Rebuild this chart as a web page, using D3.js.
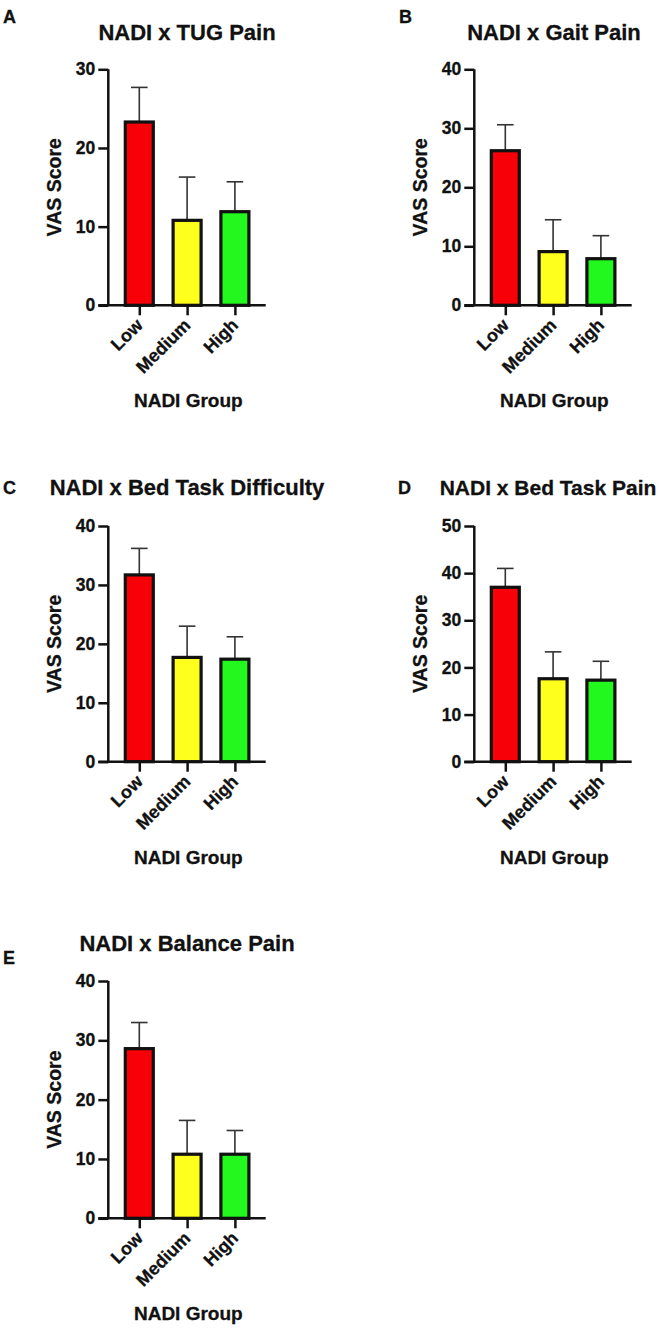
<!DOCTYPE html>
<html>
<head>
<meta charset="utf-8">
<script src="https://cdn.jsdelivr.net/npm/d3@7"></script>
<style>
  html, body { margin: 0; padding: 0; background: #fff; }
  svg { display: block; }
  text { font-family: "Liberation Sans", Arial, Helvetica, sans-serif; font-weight: bold; fill: #111; stroke: #111; stroke-width: 0.3px; }
</style>
</head>
<body>
<svg id="chart" width="672" height="1328"></svg>
<script>
// ---------- data ----------
const categories = ["Low", "Medium", "High"];
const panelLetters = ["A", "B", "C", "D", "E"];
const panelTitles = [
  "NADI x TUG Pain",
  "NADI x Gait Pain",
  "NADI x Bed Task Difficulty",
  "NADI x Bed Task Pain",
  "NADI x Balance Pain"
];
const yAxisLabel = "VAS Score";
const xAxisLabel = "NADI Group";

const meansA = [23.3, 10.8, 11.9];
const errA   = [4.4, 5.5, 3.8];
const meansB = [26.2, 9.1, 7.9];
const errB   = [4.4, 5.4, 3.9];
const meansC = [31.7, 17.7, 17.4];
const errC   = [4.5, 5.3, 3.8];
const meansD = [37.0, 17.6, 17.3];
const errD   = [4.0, 5.7, 4.0];
const meansE = [28.6, 10.8, 10.8];
const errE   = [4.4, 5.7, 4.0];

const yTicksA = [0, 10, 20, 30];
const yTicksB = [0, 10, 20, 30, 40];
const yTicksC = [0, 10, 20, 30, 40];
const yTicksD = [0, 10, 20, 30, 40, 50];
const yTicksE = [0, 10, 20, 30, 40];

const barColors = ["#f70008", "#ffff1e", "#22f81e"];

// ---------- layout (positions and sizes only) ----------
const layout = [
  { ax: 108.3, y0: 305.3, yTop: 69.3,  titleX: 187, titleY: 39.5, titleSize: 22, letterX: 3,   letterY: 23 },
  { ax: 474.3, y0: 305.3, yTop: 69.3,  titleX: 554, titleY: 39.5, titleSize: 22, letterX: 399, letterY: 23 },
  { ax: 108.3, y0: 761.7, yTop: 526,   titleX: 187, titleY: 494.5, titleSize: 22, letterX: 3,   letterY: 494 },
  { ax: 474.3, y0: 761.7, yTop: 526,   titleX: 548, titleY: 494.5, titleSize: 21, letterX: 398, letterY: 494 },
  { ax: 108.3, y0: 1218.3, yTop: 981,  titleX: 187, titleY: 950.5, titleSize: 22, letterX: 3,   letterY: 964 }
];

const panels = [
  { means: meansA, errs: errA, ticks: yTicksA },
  { means: meansB, errs: errB, ticks: yTicksB },
  { means: meansC, errs: errC, ticks: yTicksC },
  { means: meansD, errs: errD, ticks: yTicksD },
  { means: meansE, errs: errE, ticks: yTicksE }
];

const svg = d3.select("#chart");

panels.forEach((p, i) => {
  const L = layout[i];
  const g = svg.append("g");

  const x = d3.scalePoint().domain(categories).range([L.ax + 31, L.ax + 126.6]);
  const yMax = d3.max(p.ticks);
  const y = d3.scaleLinear().domain([0, yMax]).range([L.y0, L.yTop]);
  const barW = 28;

  // panel letter
  g.append("text").attr("x", L.letterX).attr("y", L.letterY)
    .attr("font-size", 18).text(panelLetters[i]);

  // title
  g.append("text").attr("x", L.titleX).attr("y", L.titleY)
    .attr("text-anchor", "middle").attr("font-size", L.titleSize).text(panelTitles[i]);

  // error bars (drawn first so bar covers lower part)
  const eb = g.append("g").attr("stroke", "#333").attr("stroke-width", 1.6).attr("fill", "none");
  categories.forEach((c, k) => {
    const cx = x(c);
    eb.append("line").attr("x1", cx).attr("x2", cx)
      .attr("y1", y(p.means[k])).attr("y2", y(p.means[k] + p.errs[k]));
    eb.append("line").attr("x1", cx - 8.3).attr("x2", cx + 8.3)
      .attr("y1", y(p.means[k] + p.errs[k])).attr("y2", y(p.means[k] + p.errs[k]));
  });

  // bars
  g.append("g").selectAll("rect").data(categories).join("rect")
    .attr("x", c => x(c) - barW / 2)
    .attr("width", barW)
    .attr("y", (c, k) => y(p.means[k]))
    .attr("height", (c, k) => y(0) - y(p.means[k]))
    .attr("fill", (c, k) => barColors[k])
    .attr("stroke", "#111").attr("stroke-width", 3.2);

  // y axis
  const yAxis = d3.axisLeft(y).tickValues(p.ticks).tickSize(10).tickPadding(3).tickFormat(d3.format("d"));
  const yg = g.append("g").attr("transform", `translate(${L.ax},0)`).call(yAxis);
  yg.select(".domain").attr("stroke", "#111").attr("stroke-width", 2.5).attr("d", `M0,${L.y0}V${L.yTop}`);
  yg.selectAll(".tick line").attr("stroke", "#111").attr("stroke-width", 2.5);
  yg.selectAll(".tick text").attr("font-size", 17.5).attr("font-family", null).attr("fill", "#111");

  // x axis
  const xAxis = d3.axisBottom(x).tickSize(10).tickFormat("");
  const xg = g.append("g").attr("transform", `translate(0,${L.y0})`).call(xAxis);
  xg.select(".domain").attr("stroke", "#111").attr("stroke-width", 2.5)
    .attr("d", `M${L.ax - 10},0H${L.ax + 157.4}`);
  xg.selectAll(".tick line").attr("stroke", "#111").attr("stroke-width", 2.5);
  xg.selectAll(".tick").append("text")
    .attr("text-anchor", "end")
    .attr("font-size", 18)
    .attr("font-family", null)
    .attr("fill", "#111")
    .attr("transform", "translate(4,21) rotate(-45)")
    .text(d => d);

  // y label
  g.append("text")
    .attr("transform", `translate(${L.ax - 47},${(L.y0 + L.yTop) / 2}) rotate(-90)`)
    .attr("text-anchor", "middle").attr("font-size", 19.5).text(yAxisLabel);

  // x label
  g.append("text").attr("x", L.ax + 80).attr("y", L.y0 + 102)
    .attr("text-anchor", "middle").attr("font-size", 19).text(xAxisLabel);
});
</script>
</body>
</html>
